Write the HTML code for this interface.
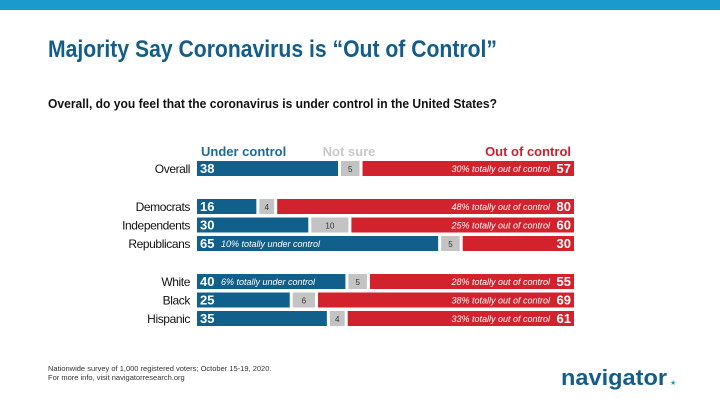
<!DOCTYPE html>
<html><head><meta charset="utf-8"><style>
html,body{margin:0;padding:0;background:#fff}
svg{display:block;font-family:"Liberation Sans",sans-serif}
</style></head><body>
<svg id="chart" width="720" height="405" viewBox="0 0 720 405">
<rect x="0" y="0" width="720" height="10" fill="#1b9bcd"/>
<text x="48" y="57" font-size="24" font-weight="bold" fill="#135d88" textLength="449" lengthAdjust="spacingAndGlyphs">Majority Say Coronavirus is “Out of Control”</text>
<text x="48" y="108" font-size="13" font-weight="bold" fill="#111" textLength="449" lengthAdjust="spacingAndGlyphs">Overall, do you feel that the coronavirus is under control in the United States?</text>
<text x="201" y="156" font-size="13" font-weight="bold" fill="#1c6a97">Under control</text>
<text x="349" y="156" font-size="13" font-weight="bold" fill="#c8c8c8" text-anchor="middle">Not sure</text>
<text x="571" y="156" font-size="13" font-weight="bold" fill="#cc2030" text-anchor="end">Out of control</text>
<g id="bars"></g>
<text x="48" y="371" font-size="7.5" fill="#333">Nationwide survey of 1,000 registered voters; October 15-19, 2020.</text>
<text x="48" y="380" font-size="7.5" fill="#333">For more info, visit navigatorresearch.org</text>
<text x="561" y="385" font-size="22" font-weight="bold" fill="#135d88" textLength="106" lengthAdjust="spacingAndGlyphs">navigator</text>
<text x="670" y="385" font-size="7" fill="#1b9bcd">★</text>
</svg>
<script>
const categories=["Overall","Democrats","Independents","Republicans","White","Black","Hispanic"];
const underControl=[38,16,30,65,40,25,35];
const notSure=[5,4,10,5,5,6,4];
const outOfControl=[57,80,60,30,55,69,61];
const underNotes=["","","","10% totally under control","6% totally under control","",""];
const outNotes=["30% totally out of control","48% totally out of control","25% totally out of control","","28% totally out of control","38% totally out of control","33% totally out of control"];
const rowTops=[161,199,217.5,236,274,292.5,311];
const NS="http://www.w3.org/2000/svg";
const X0=197,X1=574,GAP=3,H=15;
const g=document.getElementById('bars');
function mk(t,a){const e=document.createElementNS(NS,t);for(const k in a)e.setAttribute(k,a[k]);return e;}
categories.forEach((c,i)=>{
  const tot=underControl[i]+notSure[i]+outOfControl[i];
  const sc=v=>v/tot*(X1-X0-2*GAP);
  const y=rowTops[i];
  const lab=mk('text',{x:190,y:y+12,'font-size':12,'text-anchor':'end',fill:'#111','letter-spacing':'-0.4'});
  
  
  lab.textContent=c;g.appendChild(lab);
  const wu=sc(underControl[i]),wn=sc(notSure[i]),wo=sc(outOfControl[i]);
  const b1=mk('rect',{x:X0,y:y,width:wu,height:H,fill:'#11608c'});
  
  
  g.appendChild(b1);
  const xn=X0+wu+GAP;
  const b2=mk('rect',{x:xn,y:y,width:wn,height:H,fill:'#c3c3c3'});
  
  
  g.appendChild(b2);
  const xo=xn+wn+GAP;
  const b3=mk('rect',{x:xo,y:y,width:wo,height:H,fill:'#d2222d'});
  
  
  g.appendChild(b3);
  const v1=mk('text',{x:X0+3,y:y+12,'font-size':13,'font-weight':'bold',fill:'#fff'});
  
  
  v1.textContent=underControl[i];g.appendChild(v1);
  if(underNotes[i]){const n=mk('text',{x:X0+24,y:y+11,'font-size':9,'font-style':'italic',fill:'#fff'});
    
    
    n.textContent=underNotes[i];g.appendChild(n);}
  const v2=mk('text',{x:xn+wn/2,y:y+11,'font-size':8,'text-anchor':'middle',fill:'#333'});
  
  
  v2.textContent=notSure[i];g.appendChild(v2);
  const v3=mk('text',{x:X1-3,y:y+12,'font-size':13,'font-weight':'bold','text-anchor':'end',fill:'#fff'});
  
  
  v3.textContent=outOfControl[i];g.appendChild(v3);
  if(outNotes[i]){const n=mk('text',{x:X1-24,y:y+11,'font-size':9,'font-style':'italic','text-anchor':'end',fill:'#fff'});
    
    
    n.textContent=outNotes[i];g.appendChild(n);}
});
</script>
</body></html>
